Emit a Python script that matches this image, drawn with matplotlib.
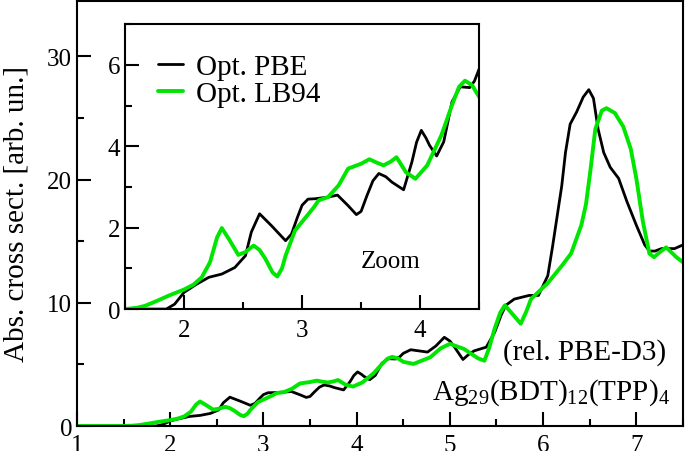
import matplotlib
matplotlib.use('Agg')
import matplotlib.pyplot as plt
from matplotlib.ticker import MultipleLocator

plt.rcParams['font.family'] = 'Liberation Serif'
plt.rcParams['mathtext.fontset'] = 'custom'
plt.rcParams['mathtext.rm'] = 'Liberation Serif'

# Opt. PBE
pbe_x = [1.0, 1.5, 1.85, 1.92, 2.0, 2.1, 2.21, 2.32, 2.43, 2.52, 2.57, 2.64, 2.74, 2.86, 2.91,
         2.96, 3.0, 3.05, 3.11, 3.22, 3.3, 3.39, 3.46, 3.5, 3.55, 3.6, 3.65, 3.71, 3.76, 3.86,
         3.93, 3.97, 4.01, 4.05, 4.08, 4.14, 4.2, 4.27, 4.34, 4.42, 4.46, 4.5, 4.58, 4.76, 4.85,
         4.94, 5.0, 5.05, 5.14, 5.2, 5.26, 5.39, 5.48, 5.55, 5.6, 5.69, 5.85, 5.95, 6.05, 6.1,
         6.16, 6.2, 6.24, 6.29, 6.36, 6.43, 6.49, 6.54, 6.59, 6.65, 6.72, 6.81, 6.9, 7.0, 7.09,
         7.14, 7.2, 7.27, 7.41, 7.5]
pbe_y = [0, 0, 0, 0.12, 0.41, 0.6, 0.78, 0.86, 1.02, 1.31, 1.89, 2.34, 2.05, 1.68, 1.84,
         2.25, 2.55, 2.7, 2.71, 2.75, 2.8, 2.54, 2.32, 2.4, 2.79, 3.15, 3.33, 3.25, 3.12, 2.93,
         3.61, 4.1, 4.39, 4.2, 4.02, 3.76, 4.11, 5.09, 5.46, 5.44, 5.6, 5.9, 6.19, 6.0, 6.5,
         7.2, 6.9, 6.4, 5.4, 5.8, 6.1, 6.4, 7.6, 9.0, 9.8, 10.3, 10.6, 10.6, 12.2, 14.5,
         17.5, 19.5, 22.2, 24.5, 25.5, 26.7, 27.3, 26.6, 24.1, 22.2, 21.0, 20.1, 18.2, 16.3, 14.7,
         14.2, 14.2, 14.4, 14.4, 14.7]

# Opt. LB94
lb_x = [1.0, 1.5, 1.6, 1.67, 1.77, 1.87, 2.0, 2.08, 2.15, 2.22, 2.28, 2.32, 2.38, 2.46, 2.52,
        2.59, 2.64, 2.69, 2.75, 2.79, 2.83, 2.86, 2.94, 3.03, 3.1, 3.14, 3.22, 3.31, 3.39, 3.5,
        3.57, 3.63, 3.69, 3.75, 3.8, 3.88, 3.96, 4.06, 4.18, 4.27, 4.33, 4.38, 4.44, 4.5, 4.61,
        4.79, 4.9, 5.0, 5.15, 5.3, 5.37, 5.42, 5.48, 5.54, 5.59, 5.67, 5.76, 5.82, 5.87, 5.98,
        6.05, 6.2, 6.3, 6.41, 6.46, 6.51, 6.56, 6.63, 6.68, 6.77, 6.86, 6.94, 7.0, 7.07, 7.14,
        7.19, 7.25, 7.32, 7.43, 7.5]
lb_y = [0, 0, 0.03, 0.08, 0.2, 0.33, 0.48, 0.6, 0.78, 1.15, 1.76, 1.99, 1.72, 1.33, 1.4,
        1.56, 1.45, 1.23, 0.9, 0.8, 1.0, 1.31, 1.93, 2.25, 2.5, 2.67, 2.75, 3.04, 3.45, 3.57,
        3.68, 3.6, 3.53, 3.62, 3.73, 3.36, 3.2, 3.53, 4.27, 5.01, 5.46, 5.61, 5.5, 5.21, 5.04,
        5.58, 6.3, 6.67, 6.26, 5.5, 5.3, 6.3, 7.9, 9.2, 9.8, 9.1, 8.3, 9.3, 10.3, 11.1,
        11.6, 13.0, 14.0, 16.3, 18.0, 20.9, 24.1, 25.6, 25.8, 25.4, 24.3, 22.5, 20.1, 16.6, 14.0,
        13.7, 14.1, 14.5, 13.7, 13.3]

GREEN = '#00e600'


def style_axis(ax, fs, xpad):
    for s in ax.spines.values():
        s.set_linewidth(1.5)
    ax.tick_params(which='both', direction='in', top=False, right=False,
                   width=1.5, labelsize=fs)
    ax.tick_params(which='major', length=10)
    ax.tick_params(which='minor', length=5)
    ax.tick_params(axis='x', which='both', pad=xpad)


def draw(ax, with_labels=False):
    kw = dict(solid_joinstyle='round', solid_capstyle='round')
    ax.plot(pbe_x, pbe_y, color='black', lw=2.0,
            label='Opt. PBE' if with_labels else None, **kw)
    ax.plot(lb_x, lb_y, color=GREEN, lw=2.8,
            label='Opt. LB94' if with_labels else None, **kw)


fig = plt.figure(figsize=(6.85, 4.52), dpi=100)
ax = fig.add_axes([0.1124, 0.0553, 0.8846, 0.9403])
draw(ax)
ax.set_xlim(1, 7.5)
ax.set_ylim(0, 34.5)
ax.xaxis.set_major_locator(MultipleLocator(1))
ax.xaxis.set_minor_locator(MultipleLocator(0.5))
ax.yaxis.set_major_locator(MultipleLocator(10))
ax.yaxis.set_minor_locator(MultipleLocator(5))
style_axis(ax, 18, 5.5)
ax.set_ylabel('Abs. cross sect. [arb. un.]', fontsize=21)
ax.yaxis.set_label_coords(-0.079, 0.5)
ax.text(0.973, 0.158, '(rel. PBE-D3)', transform=ax.transAxes, ha='right',
        va='baseline', fontsize=21)
ax.text(0.978, 0.065, r'Ag$_{29}$(BDT)$_{12}$(TPP)$_{4}$', transform=ax.transAxes,
        ha='right', va='baseline', fontsize=21)

ins = fig.add_axes([0.1825, 0.314, 0.517, 0.6305])
draw(ins, with_labels=True)
ins.set_xlim(1.5, 4.5)
ins.set_ylim(0, 7)
ins.xaxis.set_major_locator(MultipleLocator(1))
ins.xaxis.set_minor_locator(MultipleLocator(0.5))
ins.yaxis.set_major_locator(MultipleLocator(2))
ins.yaxis.set_minor_locator(MultipleLocator(1))
style_axis(ins, 18, 7)
ins.text(3.75, 1.18, 'Zoom', ha='center', va='center', fontsize=18)
ins.legend(loc='upper left', bbox_to_anchor=(0.093, 0.895), frameon=False,
           fontsize=21, handlelength=0.86, handletextpad=0.45,
           labelspacing=0.0, borderaxespad=0, borderpad=0)

fig.savefig('out.png', dpi=100)
